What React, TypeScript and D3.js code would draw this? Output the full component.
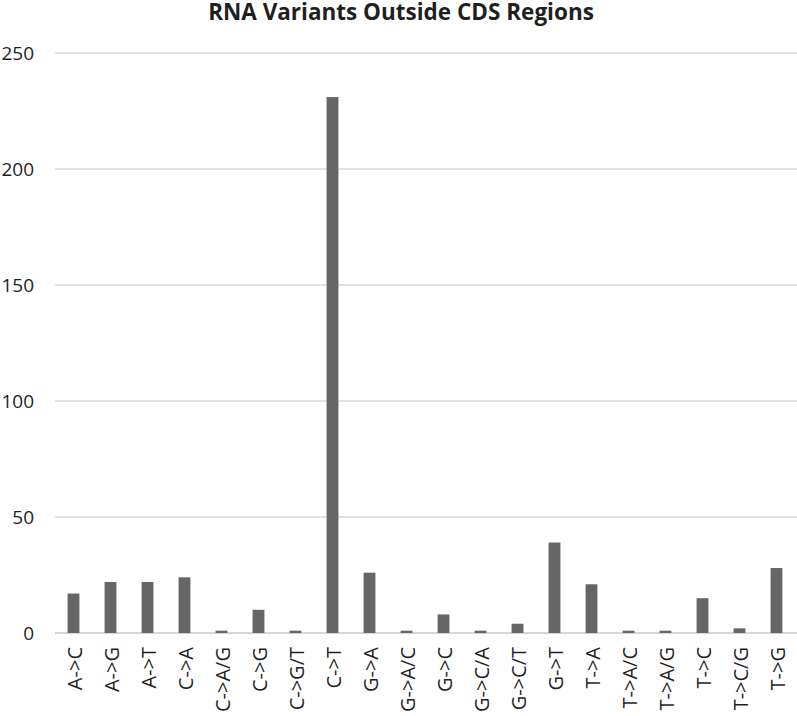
import React from "react";
import * as d3 from "d3";

const categories = ["A->C","A->G","A->T","C->A","C->A/G","C->G","C->G/T","C->T","G->A","G->A/C","G->C","G->C/A","G->C/T","G->T","T->A","T->A/C","T->A/G","T->C","T->C/G","T->G"];
const values = [17,22,22,24,1,10,1,231,26,1,8,1,4,39,21,1,1,15,2,28];
const yTicks = [0,50,100,150,200,250];
const title = "RNA Variants Outside CDS Regions";

export default function App() {
  const W = 797, H = 716;
  const left = 55, right = 795, top = 53, bottom = 633;
  const x = d3.scaleBand<string>().domain(categories).range([left, right]).paddingInner(0.68).paddingOuter(0.34);
  const y = d3.scaleLinear().domain([0, 250]).range([bottom, top]);
  const font = "'Open Sans', sans-serif";
  return (
    <svg width={W} height={H} style={{ position: "absolute", left: 0, top: 0 }} fontFamily={font}>
      <rect width={W} height={H} fill="#fff" />
      <text x={401} y={20} textAnchor="middle" fontSize={22.5} fontWeight="bold" fill="#1f1f1f">{title}</text>
      {yTicks.map(t => (
        <g key={t}>
          <line x1={left} x2={right + 2} y1={y(t)} y2={y(t)} stroke={t === 0 ? "#c8c8c8" : "#d9d9d9"} strokeWidth={1.3} />
          <text x={34} y={y(t)} dy="0.36em" textAnchor="end" fontSize={19} fill="#1f1f1f">{t}</text>
        </g>
      ))}
      {categories.map((c, i) => (
        <rect key={c} x={x(c)} width={x.bandwidth()} y={y(values[i])} height={y(0) - y(values[i])} fill="#666666" />
      ))}
      {categories.map(c => {
        const cx = (x(c) as number) + x.bandwidth() / 2 + 1;
        return (
          <text key={c} transform={`translate(${cx},647) rotate(-90)`} dy="0.36em" textAnchor="end" fontSize={20} fill="#1f1f1f">{c}</text>
        );
      })}
    </svg>
  );
}
